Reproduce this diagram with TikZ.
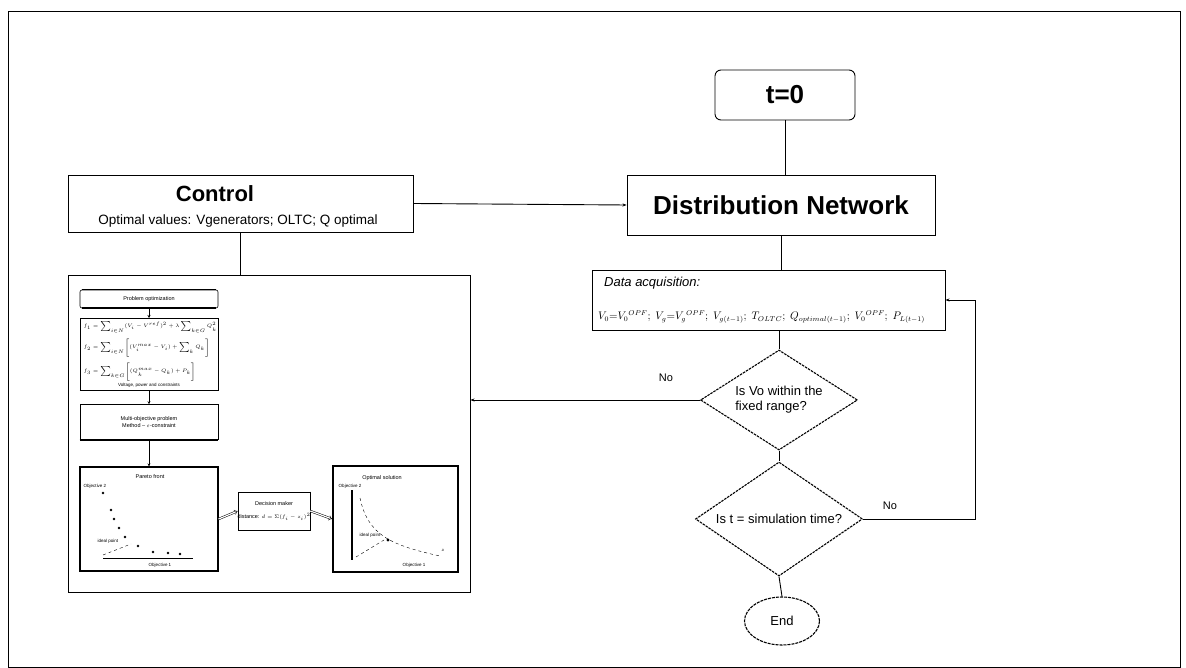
\documentclass[tikz,border=0pt]{standalone}
\usepackage{fontspec}
\setmainfont{Liberation Sans}
\usetikzlibrary{shapes.geometric,arrows.meta,positioning}
\tikzset{
  box/.style={draw, line width=0.9pt, inner sep=0pt},
  conn/.style={draw, line width=0.9pt},
  arr/.style={conn, -{Stealth[length=4pt,width=3pt]}},
  decision/.style={diamond, draw, line width=1.1pt, dashed, dash pattern=on 2.5pt off 1pt, inner sep=0pt},
  dtext/.style={font=\fontsize{13}{15}\selectfont, inner sep=0pt, align=left},
  tiny/.style={font=\fontsize{4.5}{5.5}\selectfont, inner sep=0.5pt},
  small/.style={font=\fontsize{5.5}{6.5}\selectfont, inner sep=0.5pt, align=center},
  sarr/.style={draw, line width=0.7pt, -{Stealth[length=3pt,width=3pt]}},
  darr/.style={draw, line width=0.5pt, double, double distance=1.2pt, -{Implies}},
  lbl/.style={font=\fontsize{11}{13}\selectfont, inner sep=0pt},
}
\begin{document}
\begin{tikzpicture}[x=1pt,y=-1pt]
\useasboundingbox (0,0) rectangle (1186,668);
% frame
\draw[line width=1pt] (8,12) rectangle (1180,667);

% main flow
\node[draw, line width=0.9pt, rounded corners=6pt, minimum width=140pt, minimum height=50pt,
      font=\fontsize{26}{28}\selectfont\bfseries] (start) at (785,95) {t=0};
\node[box, minimum width=308pt, minimum height=60pt,
      font=\fontsize{26}{28}\selectfont\bfseries] (dn) at (781,205) {Distribution Network};
\node[box, minimum width=345pt, minimum height=57pt] (ctrl) at (240.5,203.5) {};
\node[font=\fontsize{22}{24}\selectfont\bfseries, inner sep=0pt] (ctrlt) at (215,194) {Control};
\node[font=\fontsize{13.5}{15}\selectfont, inner sep=0pt] (ctrls) at (238,221) {Optimal values: Vgenerators; OLTC; Q optimal};

\node[box, minimum width=353pt, minimum height=60pt] (data) at (768.5,300) {};
\node[font=\fontsize{13}{15}\selectfont\itshape, anchor=west, inner sep=0pt] (datat) at (604,283) {Data acquisition:};
\node[font=\fontsize{10.5}{12}\selectfont, anchor=west, inner sep=0pt] (dataf) at (598,317)
  {$V_0{=}V_{0}{}^{OPF};\;V_g{=}V_{g}{}^{OPF};\;V_{g(t-1)};\;T_{OLTC};\;Q_{optimal(t-1)};\;V_{0}{}^{OPF};\;P_{L(t-1)}$};

\node[decision, minimum width=157pt, minimum height=100pt] (d1) at (779,400) {};
\node[dtext] (d1t) at (779,400) {Is Vo within the\\fixed range?};
\node[decision, minimum width=167pt, minimum height=114pt] (d2) at (779,519) {};
\node[dtext] (d2t) at (779,519) {Is t = simulation time?};
\node[ellipse, draw, line width=1.1pt, dashed, dash pattern=on 3pt off 1pt, minimum width=75pt, minimum height=48pt,
      font=\fontsize{13}{15}\selectfont] (end) at (782,621) {End};

% big control detail box
\node[box, minimum width=402pt, minimum height=317pt] (detail) at (269,433.5) {};

% connectors
\draw[conn] (start.south) -- (start.south |- dn.north);
\draw[arr] (ctrl.east) -- (dn.west);
\draw[conn] (ctrl.south) -- (ctrl.south |- detail.north);
\draw[conn] (dn.south) -- (dn.south |- data.north);
\draw[conn] (data.south -| d1.north) -- (d1.north);
\draw[conn] (d1.south) -- (d2.north);
\draw[conn] (d2.south) -- (end.north);
\draw[line width=0.6pt, -{Stealth[length=4pt,width=3pt]}] (d1.west) -- (d1.west -| detail.east);
\node[lbl] (no1) at (666,378) {No};
\coordinate (loopc) at (975,300);
\draw[conn, -{Stealth[length=4pt,width=3pt]}] (d2.east) -| (loopc) -- (data.east);
\node[lbl] (no2) at (890,506) {No};

% inside the control detail box
\node[draw, line width=0.6pt, rounded corners=2pt, minimum width=138pt, minimum height=18pt, small] (p1) at (149,299) {Problem optimization};
\draw[line width=1.6pt] (p1.north west) ++(2,0) -- ([xshift=-2pt]p1.north east);
\draw[line width=1.6pt] (p1.south west) ++(2,0) -- ([xshift=-2pt]p1.south east);
\node[draw, line width=0.5pt, minimum width=138pt, minimum height=72pt, anchor=north] (p2) at (149,318) {};
\draw[line width=1.6pt] (p2.south west) -- (p2.south east);
\node[tiny, anchor=north west, align=left] (eqs) at (83,321)
  {$f_1=\sum_{i\in N}(V_i-V^{ref})^2+\lambda\sum_{k\in G}Q_k^2$\\[5pt]
   $f_2=\sum_{i\in N}\bigl[(V_i^{max}-V_i)+\sum_{k}Q_k\bigr]$\\[5pt]
   $f_3=\sum_{k\in G}\bigl[(Q_k^{max}-Q_k)+P_k\bigr]$};
\node[tiny, anchor=south] (eqc) at (149,388) {Voltage, power and constraints};
\node[draw, line width=0.6pt, minimum width=138pt, minimum height=35pt, small] (p3) at (149,422)
  {Multi-objective problem\\Method -- $\varepsilon$-constraint};
\draw[line width=1.6pt] (p3.south west) -- (p3.south east);
\draw[line width=1.6pt] (p3.north east) -- (p3.south east);
\node[draw, line width=1.2pt, minimum width=138pt, minimum height=104pt] (p4) at (149,519) {};
\node[draw, line width=0.6pt, minimum width=72pt, minimum height=38pt] (p5) at (274,511) {};
\node[small] (p5a) at (274,504) {Decision maker};
\node[small] (p5b) at (274,517) {distance: $d=\Sigma(f_i-z_i)^2$};
\draw[line width=1.6pt] (p5.north east) -- (p5.south east);
\node[draw, line width=1.8pt, minimum width=125pt, minimum height=106pt] (p6) at (395.5,519) {};

\draw[sarr] (p1.south) -- (p2.north);
\draw[sarr] (p2.south) -- (p3.north);
\draw[sarr] (p3.south) -- (p4.north);
\draw[darr] (p4.east) -- (p5.west);
\draw[darr] (p5.east) -- (p6.west);

% left plot: Pareto front
\node[small] (t4) at (150,477) {Pareto front};
\node[tiny] (y4) at (95,486) {Objective 2};
\node[tiny] (x4) at (160,565) {Objective 1};
\draw[line width=1.3pt] (p4.south west) ++(24,-13) coordinate (ax0) -- ++(90,0) coordinate (ax1);
\foreach \px/\py in {103/493,111/510,114/519,119/528,125/537,138/546,153/552,168/553,180/554}
  \fill (\px,\py) circle (1.4pt);
\node[tiny] (ip4) at (108,541) {ideal point};
\draw[line width=0.4pt, dashed] (103,555) -- (131,544);

% right plot: best solution
\node[small] (t6) at (382,478) {Optimal solution};
\node[tiny] (y6) at (350,486) {Objective 2};
\node[tiny] (x6) at (414,565) {Objective 1};
\draw[line width=1.5pt] (352,490) -- (352,560);
\draw[line width=0.4pt, dashed] (360,498) .. controls (368,535) and (390,545) .. (440,556);
\draw[line width=0.4pt, dashed] (356,557) -- (384,540);
\fill (388,540) circle (1.6pt);
\node[tiny] (ip6) at (370,535) {ideal point};
\node[tiny] (m6) at (443,550) {$z$};
\end{tikzpicture}
\end{document}
